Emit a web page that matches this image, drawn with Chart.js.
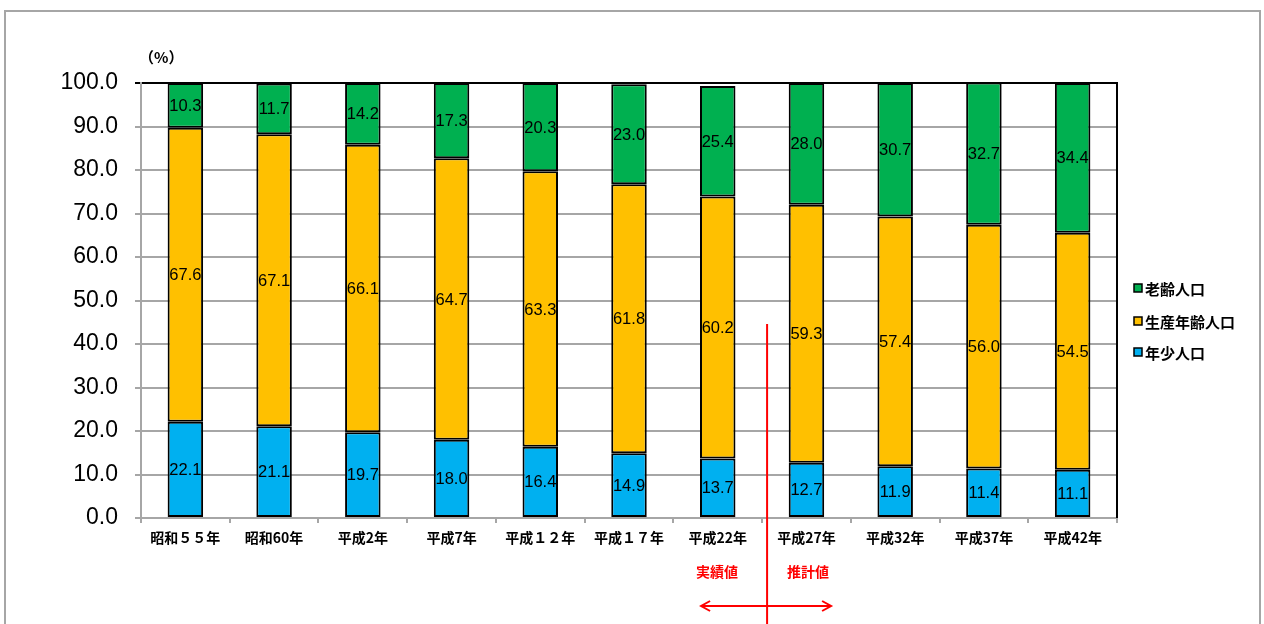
<!DOCTYPE html>
<html lang="ja">
<head>
    <meta charset="UTF-8">
    <title>年齢3区分別人口割合の推移</title>
    <script src="https://cdn.jsdelivr.net/npm/chart.js@4.4.1/dist/chart.umd.min.js"></script>
    <style>
        body {
            margin: 0;
            background: #fff;
        }
        #wrap {
            width: 1264px;
            height: 624px;
        }
    </style>
</head>
<body>
    <div id="wrap">
        <canvas id="popChart" width="1264" height="624"></canvas>
    </div>

    <script>
        const years = ['昭和５５年', '昭和60年', '平成2年', '平成7年', '平成１２年', '平成１７年',
                       '平成22年', '平成27年', '平成32年', '平成37年', '平成42年'];
        const youth   = [22.1, 21.1, 19.7, 18.0, 16.4, 14.9, 13.7, 12.7, 11.9, 11.4, 11.1];
        const working = [67.6, 67.1, 66.1, 64.7, 63.3, 61.8, 60.2, 59.3, 57.4, 56.0, 54.5];
        const elderly = [10.3, 11.7, 14.2, 17.3, 20.3, 23.0, 25.4, 28.0, 30.7, 32.7, 34.4];
        const seriesNames = ['年少人口', '生産年齢人口', '老齢人口'];
        const seriesColors = ['#00B0F0', '#FFC000', '#00B050'];

        const numFont = '"Liberation Sans", Arial, sans-serif';
        const jpFont = '"Noto Sans CJK JP", "Noto Sans", sans-serif';

        // frame, legend, value labels and the actual/estimate marker
        const decorations = {
            id: 'decorations',
            beforeDraw(chart) {
                const ctx = chart.ctx;
                ctx.save();
                ctx.strokeStyle = '#a6a6a6';
                ctx.lineWidth = 2;
                ctx.strokeRect(5, 11, 1255, 700);
                ctx.restore();
            },
            afterDatasetsDraw(chart) {
                const ctx = chart.ctx;
                const area = chart.chartArea;
                ctx.save();
                ctx.fillStyle = '#000';
                ctx.font = '16.5px ' + numFont;
                ctx.textAlign = 'center';
                ctx.textBaseline = 'middle';
                chart.data.datasets.forEach((ds, i) => {
                    chart.getDatasetMeta(i).data.forEach((bar, j) => {
                        const mid = (bar.y + bar.base) / 2;
                        ctx.fillText(ds.data[j].toFixed(1), bar.x, mid + 1);
                    });
                });

                // right edge of plot area
                ctx.strokeStyle = '#000';
                ctx.lineWidth = 2;
                ctx.beginPath();
                ctx.moveTo(area.right, area.top - 1);
                ctx.lineTo(area.right, area.bottom);
                ctx.stroke();
                ctx.restore();
            },
            afterDraw(chart) {
                const ctx = chart.ctx;
                const xs = chart.scales.x;
                ctx.save();

                // unit
                ctx.fillStyle = '#000';
                ctx.font = 'bold 15px ' + jpFont;
                ctx.textAlign = 'left';
                ctx.textBaseline = 'middle';
                ctx.fillText('（%）', 139, 57);

                // legend, top to bottom
                const legendY = [288, 321, 352];
                ctx.font = 'bold 15px ' + jpFont;
                for (let k = 0; k < 3; k++) {
                    const idx = 2 - k;
                    const y = legendY[k];
                    ctx.fillStyle = seriesColors[idx];
                    ctx.fillRect(1134, y - 4, 8, 8);
                    ctx.strokeStyle = '#000';
                    ctx.lineWidth = 1.5;
                    ctx.strokeRect(1134, y - 4, 8, 8);
                    ctx.fillStyle = '#000';
                    ctx.fillText(seriesNames[idx], 1145, y + 1);
                }

                // split between actual and estimated values
                const splitX = (xs.getPixelForValue(6) + xs.getPixelForValue(7)) / 2 + 5;
                ctx.strokeStyle = '#FF0000';
                ctx.fillStyle = '#FF0000';
                ctx.lineWidth = 2;
                ctx.beginPath();
                ctx.moveTo(splitX, 324);
                ctx.lineTo(splitX, 624);
                ctx.stroke();

                ctx.font = 'bold 14px ' + jpFont;
                ctx.textAlign = 'center';
                ctx.fillText('実績値', splitX - 50, 572);
                ctx.fillText('推計値', splitX + 41, 572);

                const ay = 606, ax1 = splitX - 66, ax2 = splitX + 64;
                ctx.beginPath();
                ctx.moveTo(ax1, ay);
                ctx.lineTo(ax2, ay);
                ctx.moveTo(ax1 + 9, ay - 5);
                ctx.lineTo(ax1, ay);
                ctx.lineTo(ax1 + 9, ay + 5);
                ctx.moveTo(ax2 - 9, ay - 5);
                ctx.lineTo(ax2, ay);
                ctx.lineTo(ax2 - 9, ay + 5);
                ctx.stroke();
                ctx.restore();
            }
        };

        const datasets = [youth, working, elderly].map((vals, i) => ({
            label: seriesNames[i],
            data: vals,
            backgroundColor: seriesColors[i],
            borderColor: '#000',
            borderWidth: 2,
            borderSkipped: false,
            barPercentage: 0.4,
            categoryPercentage: 1.0
        }));

        new Chart(document.getElementById('popChart').getContext('2d'), {
            type: 'bar',
            data: { labels: years, datasets: datasets },
            plugins: [decorations],
            options: {
                responsive: false,
                animation: false,
                layout: { padding: { top: 83, right: 147, left: 0, bottom: 0 } },
                plugins: {
                    legend: { display: false },
                    tooltip: { enabled: false }
                },
                scales: {
                    x: {
                        stacked: true,
                        afterFit: (scale) => { scale.height = 106; },
                        grid: {
                            offset: true,
                            drawOnChartArea: false,
                            tickLength: 5,
                            color: '#a6a6a6',
                            lineWidth: 2
                        },
                        border: { color: '#a6a6a6', width: 2 },
                        ticks: {
                            color: '#000',
                            padding: 6,
                            maxRotation: 0,
                            font: { family: jpFont, size: 14, weight: 'bold' }
                        }
                    },
                    y: {
                        stacked: true,
                        min: 0,
                        max: 100,
                        afterFit: (scale) => { scale.width = 141; },
                        grid: {
                            color: (c) => c.tick && c.tick.value === 100 ? '#000' : '#a6a6a6',
                            lineWidth: 2,
                            tickLength: 6
                        },
                        border: { color: '#a6a6a6', width: 2 },
                        ticks: {
                            stepSize: 10,
                            color: '#000',
                            padding: 17,
                            font: { family: numFont, size: 23 },
                            callback: (v) => v.toFixed(1)
                        }
                    }
                }
            }
        });
    </script>
</body>
</html>
